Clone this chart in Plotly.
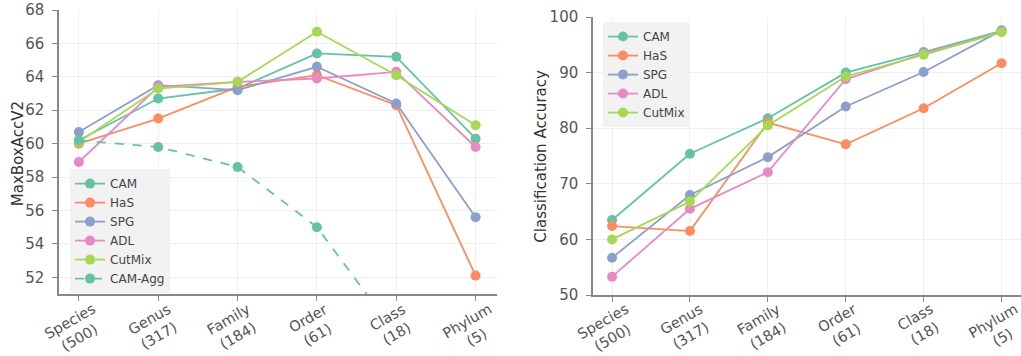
import plotly.graph_objects as go

categories = ["Species<br>(500)", "Genus<br>(317)", "Family<br>(184)", "Order<br>(61)", "Class<br>(18)", "Phylum<br>(5)"]

# Left panel: MaxBoxAccV2
left_cam = [60.2, 62.7, 63.3, 65.4, 65.2, 60.3]
left_has = [60.0, 61.5, 63.4, 64.1, 62.3, 52.1]
left_spg = [60.7, 63.5, 63.2, 64.6, 62.4, 55.6]
left_adl = [58.9, 63.4, 63.7, 63.9, 64.3, 59.8]
left_cutmix = [60.1, 63.3, 63.7, 66.7, 64.1, 61.1]
left_camagg = [60.2, 59.8, 58.6, 55.0, 48.6]

# Right panel: Classification Accuracy
right_cam = [63.5, 75.4, 81.8, 90.0, 93.7, 97.5]
right_has = [62.4, 61.5, 81.0, 77.1, 83.6, 91.7]
right_spg = [56.7, 68.0, 74.8, 83.9, 90.1, 97.6]
right_adl = [53.3, 65.5, 72.1, 88.8, 93.4, 97.3]
right_cutmix = [60.0, 66.8, 80.5, 89.3, 93.2, 97.3]

names = ["CAM", "HaS", "SPG", "ADL", "CutMix"]
colors = ["#66c2a5", "#fc8d62", "#8da0cb", "#e78ac3", "#a6d854"]

fig = go.Figure()

xs = list(range(len(categories)))
for name, col, vals in zip(names, colors, [left_cam, left_has, left_spg, left_adl, left_cutmix]):
    fig.add_trace(go.Scatter(x=xs, y=vals, name=name, mode="lines+markers",
                             line=dict(color=col, width=1.8), marker=dict(color=col, size=10),
                             xaxis="x", yaxis="y", legend="legend"))
fig.add_trace(go.Scatter(x=xs[:len(left_camagg)], y=left_camagg, name="CAM-Agg", mode="lines+markers",
                         line=dict(color=colors[0], width=1.8, dash="dash"), marker=dict(color=colors[0], size=10),
                         xaxis="x", yaxis="y", legend="legend", cliponaxis=True))

for name, col, vals in zip(names, colors, [right_cam, right_has, right_spg, right_adl, right_cutmix]):
    fig.add_trace(go.Scatter(x=xs, y=vals, name=name, mode="lines+markers",
                             line=dict(color=col, width=1.8), marker=dict(color=col, size=10),
                             xaxis="x2", yaxis="y2", legend="legend2"))

axis_common = dict(showline=True, linecolor="#888", linewidth=1.5, ticks="outside", ticklen=5,
                   tickcolor="#888", showgrid=True, gridcolor="#efefef", gridwidth=1,
                   zeroline=False, automargin=False, ticklabeloverflow="allow",
                   ticklabelstandoff=5, tickfont=dict(size=15, color="#555"))
xaxis_common = dict(axis_common, tickmode="array", tickvals=xs, ticktext=categories, showticklabels=False)

fig.update_layout(
    width=1021, height=356,
    margin=dict(l=0, r=0, t=0, b=0),
    paper_bgcolor="white", plot_bgcolor="white",
    font=dict(family="DejaVu Sans", color="#555"),
    xaxis=dict(xaxis_common, domain=[0.0578, 0.4868], range=[-0.25, 5.27]),
    yaxis=dict(axis_common, domain=[0.1742, 0.9719], range=[51, 68], tickvals=[52, 54, 56, 58, 60, 62, 64, 66, 68]),
    xaxis2=dict(xaxis_common, domain=[0.5808, 1.0], range=[-0.245, 5.25], anchor="y2"),
    yaxis2=dict(axis_common, domain=[0.1713, 0.9522], range=[50, 100], tickvals=[50, 60, 70, 80, 90, 100],
                anchor="x2"),
    legend=dict(x=0.0686, y=0.525, xanchor="left", yanchor="top", bgcolor="#f2f2f2",
                font=dict(size=12, color="#444"), tracegroupgap=0, itemwidth=30),
    legend2=dict(x=0.5906, y=0.938, xanchor="left", yanchor="top", bgcolor="#f2f2f2",
                 font=dict(size=12, color="#444"), tracegroupgap=0, itemwidth=30),
    showlegend=True,
)

# Axis titles
fig.add_annotation(x=18 / 1021, xref="paper", y=0.567, yref="paper", text="MaxBoxAccV2",
                   textangle=-90, showarrow=False, xanchor="center", yanchor="middle",
                   font=dict(size=15, color="#333"))
fig.add_annotation(x=541 / 1021, xref="paper", y=0.560, yref="paper", text="Classification Accuracy",
                   textangle=-90, showarrow=False, xanchor="center", yanchor="middle",
                   font=dict(size=15, color="#333"))

# Rotated category labels
for xref in ["x", "x2"]:
    for i, lab in enumerate(categories):
        fig.add_annotation(x=i, xref=xref, y=0.149, yref="paper", text=lab, showarrow=False,
                           textangle=-30, xanchor="center", yanchor="top", xshift=-4, yshift=5,
                           font=dict(size=14.5, color="#555"))

fig.write_html("out.html")
